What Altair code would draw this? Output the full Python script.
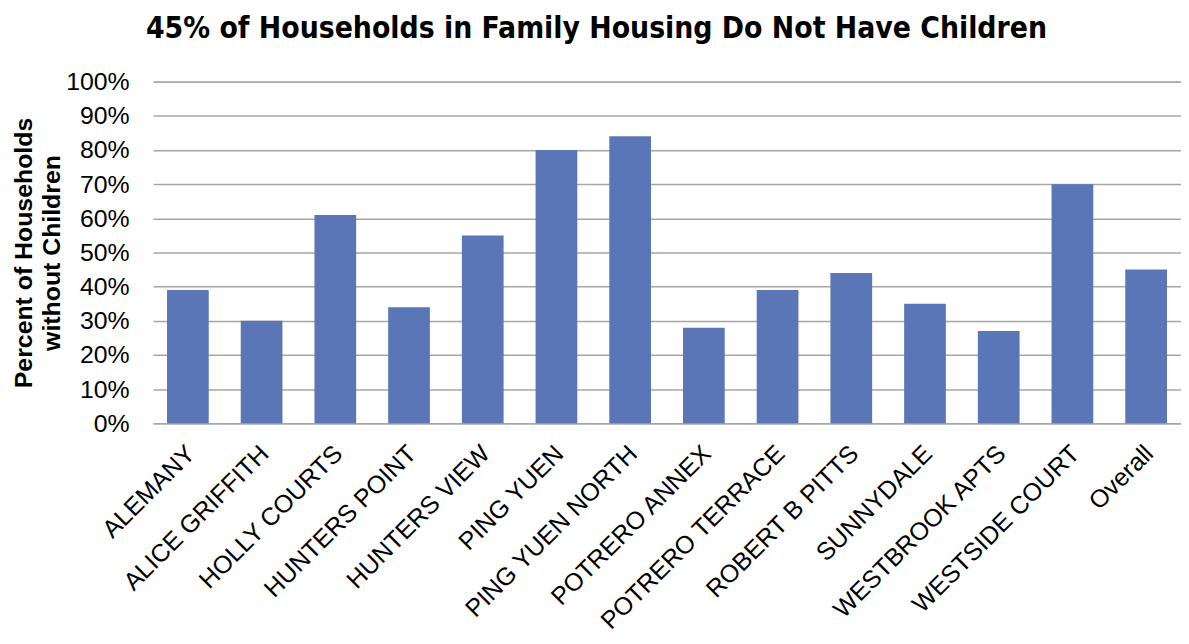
import altair as alt
import pandas as pd

categories = ["ALEMANY", "ALICE GRIFFITH", "HOLLY COURTS", "HUNTERS POINT", "HUNTERS VIEW",
              "PING YUEN", "PING YUEN NORTH", "POTRERO ANNEX", "POTRERO TERRACE", "ROBERT B PITTS",
              "SUNNYDALE", "WESTBROOK APTS", "WESTSIDE COURT", "Overall"]
values = [0.39, 0.30, 0.61, 0.34, 0.55, 0.80, 0.84, 0.28, 0.39, 0.44, 0.35, 0.27, 0.70, 0.45]

df = pd.DataFrame({"site": categories, "pct": values})

chart = alt.Chart(df).mark_bar(color="#5B76B6").encode(
    x=alt.X("site:N", sort=categories, title=None,
            scale=alt.Scale(paddingInner=0.434, paddingOuter=0.19),
            axis=alt.Axis(labelAngle=-45, labelFontSize=25, labelFont="Liberation Sans",
                          labelColor="#000000", ticks=False, domain=False, labelPadding=26,
                          labelOffset=3, labelLimit=0,
                          labelAlign="right", labelBaseline="middle")),
    y=alt.Y("pct:Q", title=["Percent of Households", "without Children"],
            scale=alt.Scale(domain=[0, 1]),
            axis=alt.Axis(format=".0%", values=[i / 10 for i in range(11)], labelFontSize=25,
                          labelFont="Liberation Sans", labelColor="#000000", ticks=False,
                          domain=False, labelPadding=24, gridColor="#a6a6a6", gridWidth=1.6,
                          titleFontSize=25, titleFont="Liberation Sans", titleFontWeight="bold",
                          titleColor="#000000", titlePadding=1, titleLineHeight=28)),
).properties(
    width=1035, height=344,
    title=alt.TitleParams("45% of Households in Family Housing Do Not Have Children",
                          font="'DejaVu Sans Condensed', 'Liberation Sans'", fontSize=30,
                          fontWeight="bold", color="#000000", anchor="middle", dx=-71, offset=26),
    autosize=alt.AutoSizeParams(type="none"),
    padding={"left": 146, "top": 72, "right": 0, "bottom": 220},
).configure_view(stroke=None)

chart.save("out.html", embed_options={"renderer": "svg", "actions": False})
